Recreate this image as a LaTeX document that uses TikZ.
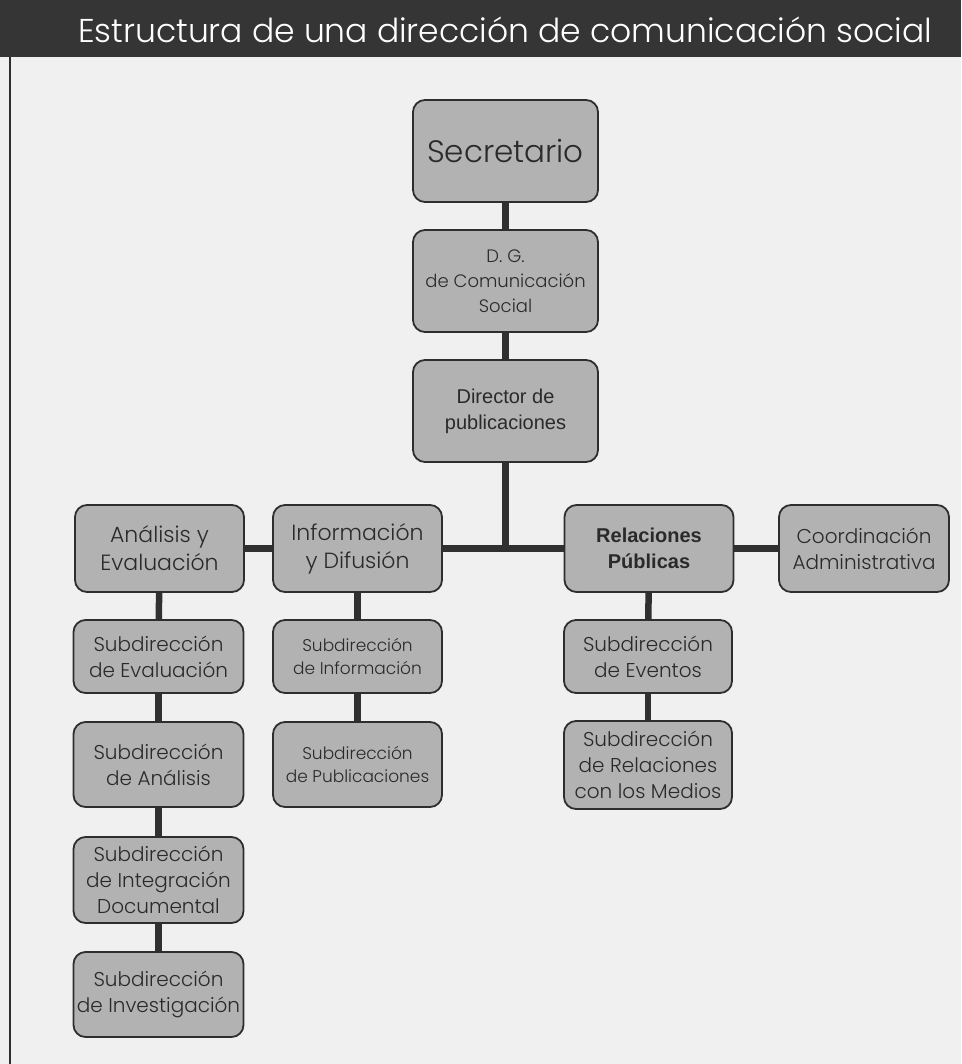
\documentclass[tikz,border=0pt]{standalone}
\usepackage{fontspec}
\setmainfont{Poppins Light}
\newfontfamily\arialfont{Liberation Sans}
\definecolor{headbg}{HTML}{353535}
\definecolor{pagebg}{HTML}{F0F0F0}
\definecolor{boxfill}{HTML}{B2B2B2}
\definecolor{boxline}{HTML}{2E2E2E}
\definecolor{linkcol}{HTML}{303030}
\definecolor{textcol}{HTML}{2A2A2A}
\tikzset{
  orgbox/.style={draw=boxline, line width=1.8pt, fill=boxfill, rounded corners=12pt,
    align=center, inner sep=0pt, text=textcol},
  topbox/.style={orgbox, minimum width=185pt, minimum height=102pt},
  areabox/.style={orgbox, minimum width=169pt, minimum height=87pt,
    font=\fontsize{22}{28}\selectfont},
  subbox/.style={orgbox, minimum width=170pt, minimum height=85pt,
    font=\fontsize{20}{26}\selectfont},
  smallsub/.style={subbox, minimum width=169pt, font=\fontsize{17}{23}\selectfont},
  link/.style={draw=linkcol, line width=6.5pt},
}
\begin{document}
\begin{tikzpicture}[x=1pt,y=-1pt]
  % page and title band
  \useasboundingbox (0,0) rectangle (961,1064);
  \fill[pagebg] (0,0) rectangle (961,1064);
  \fill[headbg] (0,0) rectangle (961,57);
  \draw[boxline, line width=1.5pt] (10,57) -- (10,1064);
  \node[text=white, font=\fontsize{33}{38}\selectfont, inner sep=0pt] (title) at (505,30)
    {Estructura de una dirección de comunicación social};

  % upper chain
  \node[topbox, font=\fontsize{31}{36}\selectfont] (sec) at (505.5,151) {Secretario};
  \node[topbox, font=\fontsize{18}{25}\selectfont] (dg) at (505.5,281) {D. G.\\de Comunicación\\Social};
  \node[topbox, font=\arialfont\fontsize{20}{26}\selectfont] (dir) at (505.5,411) {Director de\\publicaciones};

  % areas
  \node[areabox] (ana) at (159.5,548.5) {Análisis y\\Evaluación};
  \node[areabox] (inf) at (357.5,548.5) {Información\\y Difusión};
  \node[areabox, font=\arialfont\bfseries\fontsize{20}{26}\selectfont] (rel) at (649,548.5) {Relaciones\\Públicas};
  \node[areabox, minimum width=170pt, font=\fontsize{20}{26}\selectfont] (coo) at (864,548.5) {Coordinación\\Administrativa};

  % sub-directions
  \node[subbox, minimum height=73pt] (seva) at (158.5,656.5) {Subdirección\\de Evaluación};
  \node[subbox] (sana) at (158.5,764.5) {Subdirección\\de Análisis};
  \node[subbox, minimum height=86pt] (sint) at (158.5,880) {Subdirección\\de Integración\\Documental};
  \node[subbox] (sinv) at (158.5,994.5) {Subdirección\\de Investigación};

  \node[smallsub, minimum height=73pt] (sinf) at (357.5,656.5) {Subdirección\\de Información};
  \node[smallsub] (spub) at (357.5,764.5) {Subdirección\\de Publicaciones};

  \node[subbox, minimum width=168pt, minimum height=73pt] (seve) at (648,656.5) {Subdirección\\de Eventos};
  \node[subbox, minimum width=168pt, minimum height=88pt] (smed) at (648,765) {Subdirección\\de Relaciones\\con los Medios};

  % connectors
  \coordinate (hub) at (505.5,549);
  \draw[link] (sec) -- (dg);
  \draw[link] (dg) -- (dir);
  \draw[link] (dir) -- (hub);
  \draw[link] (ana) -- (inf);
  \draw[link] (inf) -- (rel);
  \draw[link] (rel) -- (coo);
  \draw[link] (ana) -- (seva);
  \draw[link] (seva) -- (sana);
  \draw[link] (sana) -- (sint);
  \draw[link] (sint) -- (sinv);
  \draw[link] (inf) -- (sinf);
  \draw[link] (sinf) -- (spub);
  \draw[link] (rel) -- (seve);
  \draw[link] (seve) -- (smed);
\end{tikzpicture}
\end{document}
